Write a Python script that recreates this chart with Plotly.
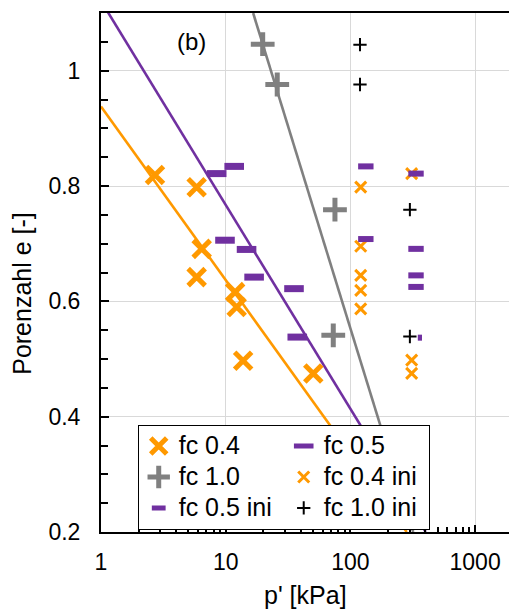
import plotly.graph_objects as go

# ---- data ----
fc04_p = [2.71, 5.85, 6.42, 5.85, 11.9, 12.25, 13.8, 50.4]
fc04_e = [0.819, 0.798, 0.691, 0.642, 0.616, 0.590, 0.497, 0.475]

fc05_p = [8.47, 11.7, 9.87, 14.7, 16.9, 35.3, 37.5]
fc05_e = [0.8215, 0.834, 0.706, 0.690, 0.642, 0.622, 0.538]

fc10_p = [19.8, 25.9, 75.2, 72.9]
fc10_e = [1.046, 0.976, 0.759, 0.541]

fc04ini_p = [121, 121, 121, 121, 121, 310, 310, 310]
fc04ini_e = [0.798, 0.6955, 0.645, 0.619, 0.587, 0.8215, 0.498, 0.475]

fc05ini_p = [133, 133, 336, 336, 336, 336, 361]
fc05ini_e = [0.834, 0.708, 0.8215, 0.691, 0.645, 0.625, 0.537]

fc10ini_p = [119.4, 119.4, 300, 300]
fc10ini_e = [1.045, 0.976, 0.759, 0.539]

# trend lines (end points)
line04_p = [1, 283]
line04_e = [0.938, 0.2]
line05_p = [1, 402]
line05_e = [1.121, 0.2]
line10_p = [16.6, 319]
line10_e = [1.1, 0.2]

x_ticks = [1, 10, 100, 1000]
x_ticktext = ["1", "10", "100", "1000"]
x_minor = [2, 3, 4, 5, 6, 7, 8, 9, 20, 30, 40, 50, 60, 70, 80, 90,
           200, 300, 400, 500, 600, 700, 800, 900]

ORANGE = "#FF9900"
PURPLE = "#7030A0"
GRAY = "#808080"
FONT = "Liberation Sans, Arial, sans-serif"


def lg(name):
    return '<span style="font-size:25px">' + name + '</span>'


fig = go.Figure()

for px_, ey, col in [(line04_p, line04_e, ORANGE), (line05_p, line05_e, PURPLE),
                     (line10_p, line10_e, GRAY)]:
    fig.add_trace(go.Scatter(x=px_, y=ey, mode="lines", showlegend=False,
                             line=dict(color=col, width=2.6), hoverinfo="skip"))

fig.add_trace(go.Scatter(x=fc04_p, y=fc04_e, mode="markers", name=lg("fc 0.4"),
                         marker=dict(symbol="x-thin", size=17, opacity=1,
                                     line=dict(color=ORANGE, width=5))))
fig.add_trace(go.Scatter(x=fc05_p, y=fc05_e, mode="markers", name=lg("fc 0.5"),
                         marker=dict(symbol="line-ew", size=14, opacity=1,
                                     line=dict(color=PURPLE, width=7))))
fig.add_trace(go.Scatter(x=fc10_p, y=fc10_e, mode="markers", name=lg("fc 1.0"),
                         marker=dict(symbol="cross-thin", size=17, opacity=1,
                                     line=dict(color=GRAY, width=5))))
fig.add_trace(go.Scatter(x=fc04ini_p, y=fc04ini_e, mode="markers", name=lg("fc 0.4 ini"),
                         marker=dict(symbol="x-thin", size=11, opacity=1,
                                     line=dict(color=ORANGE, width=3))))
ini05_sizes = [11] * (len(fc05ini_p) - 1) + [3]
fig.add_trace(go.Scatter(x=fc05ini_p, y=fc05ini_e, mode="markers", name=lg("fc 0.5 ini"),
                         marker=dict(symbol="line-ew", size=ini05_sizes, opacity=1,
                                     line=dict(color=PURPLE, width=6))))
fig.add_trace(go.Scatter(x=fc10ini_p, y=fc10ini_e, mode="markers", name=lg("fc 1.0 ini"),
                         marker=dict(symbol="cross-thin", size=9.5, opacity=1,
                                     line=dict(color="black", width=2))))

fig.add_annotation(x=0.222, y=0.945, xref="paper", yref="paper", text="(b)",
                   xanchor="center", yanchor="middle",
                   showarrow=False, font=dict(size=24, color="black", family=FONT))
# axis titles
fig.add_annotation(x=-0.1936, y=0.459, xref="paper", yref="paper",
                   text="Porenzahl e [-]", textangle=-90,
                   xanchor="center", yanchor="middle", showarrow=False,
                   font=dict(size=25, color="black", family=FONT))
fig.add_annotation(x=0.5, y=-0.121, xref="paper", yref="paper",
                   text="p' [kPa]", xanchor="center", yanchor="middle",
                   showarrow=False, font=dict(size=25, color="black", family=FONT))

fig.update_layout(
    width=509, height=612,
    margin=dict(l=101, r=0, t=13, b=80),
    paper_bgcolor="white", plot_bgcolor="white",
    font=dict(family=FONT, size=23, color="black"),
    showlegend=True,
    legend=dict(orientation="h", x=0.09, y=0.207, xanchor="left", yanchor="top",
                bgcolor="white", bordercolor="black", borderwidth=1,
                entrywidth=100, entrywidthmode="pixels", itemwidth=30,
                font=dict(size=21.5, family=FONT), itemsizing="trace",
                tracegroupgap=0),
)

fig.update_xaxes(
    type="log", range=[0, 3.272],
    tickmode="array", tickvals=x_ticks, ticktext=x_ticktext,
    showgrid=True, gridcolor="#d9d9d9", gridwidth=1,
    showline=True, linecolor="black", linewidth=2, mirror=True,
    ticks="inside", ticklen=7, tickwidth=1.5, tickcolor="black",
    ticklabelstandoff=8,
    minor=dict(tickmode="array", tickvals=x_minor, ticks="inside", ticklen=5,
               tickwidth=1.5, tickcolor="black", showgrid=False),
    zeroline=False,
)
fig.update_yaxes(
    range=[0.2, 1.1], dtick=0.2, tick0=0.2,
    showgrid=True, gridcolor="#d9d9d9", gridwidth=1,
    showline=True, linecolor="black", linewidth=2,
    ticks="inside", ticklen=8, tickwidth=1.5, tickcolor="black",
    ticklabelstandoff=14,
    minor=dict(dtick=0.05, ticks="inside", ticklen=7, tickwidth=1.5,
               tickcolor="black", showgrid=False),
    zeroline=False,
)

fig.write_html("out.html")
